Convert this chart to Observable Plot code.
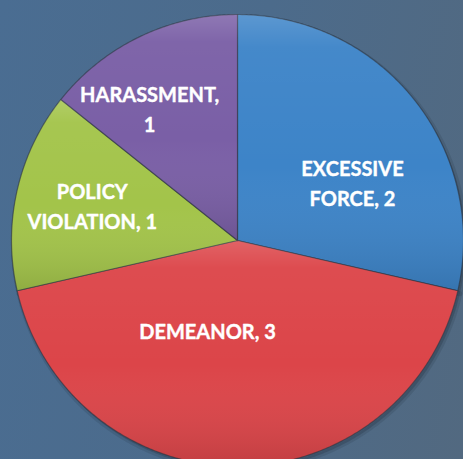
<!DOCTYPE html>
<html><head><meta charset="utf-8">
<script src="https://cdn.jsdelivr.net/npm/d3@7"></script>
<script src="https://cdn.jsdelivr.net/npm/@observablehq/plot@0.6"></script>
<style>
html,body{margin:0;padding:0;overflow:hidden;}
body{width:463px;height:459px;background:linear-gradient(100deg,#4a6d92 0%,#4c6b8b 50%,#526980 100%);}
#chart svg{display:block;background:transparent;}
</style></head><body><div id="chart"></div>
<script>
const categories = ["EXCESSIVE FORCE", "DEMEANOR", "POLICY VIOLATION", "HARASSMENT"];
const values = [2, 3, 1, 1];
const labels = ["EXCESSIVE\nFORCE, 2", "DEMEANOR, 3", "POLICY\nVIOLATION, 1", "HARASSMENT,\n1"];

const W = 463, H = 459, cx = 237, cy = 240, R = 226;
const rows = categories.map((c, i) => ({category: c, value: values[i], label: labels[i]}));
const slices = d3.pie().sort(null).value(d => d.value)(rows);

const pts = [];
for (const s of slices) {
  const n = Math.max(2, Math.ceil((s.endAngle - s.startAngle) / 0.01));
  pts.push({category: s.data.category, x: 0, y: 0});
  for (let k = 0; k <= n; k++) {
    const a = s.startAngle + (s.endAngle - s.startAngle) * k / n;
    pts.push({category: s.data.category, x: Math.sin(a), y: Math.cos(a)});
  }
  pts.push({category: s.data.category, x: 0, y: 0});
}
const lr = 0.6;
const labelPts = slices.map(s => {
  const m = (s.startAngle + s.endAngle) / 2;
  return {category: s.data.category, label: s.data.label, x: lr * Math.sin(m), y: lr * Math.cos(m)};
});
const offsets = {
  "EXCESSIVE FORCE": [9, 25],
  "DEMEANOR": [-30, -47],
  "POLICY VIOLATION": [-13, -6],
  "HARASSMENT": [-29, -11]
};
const textStyle = {fill: "white", stroke: "white", strokeWidth: 0.4, fontSize: 20, fontWeight: "bold", fontFamily: "Lato, 'Open Sans', sans-serif", lineHeight: 1.5, lineAnchor: "middle", textAnchor: "middle"};

function defs() {
  const ns = "http://www.w3.org/2000/svg";
  const d = document.createElementNS(ns, "defs");
  const g = document.createElementNS(ns, "linearGradient");
  g.setAttribute("id", "shade");
  g.setAttribute("x1", "0"); g.setAttribute("y1", "0");
  g.setAttribute("x2", "0"); g.setAttribute("y2", "1");
  for (const [o, c, a] of [[0, "white", 0.16], [0.12, "white", 0.04], [0.55, "white", 0], [1, "black", 0.12]]) {
    const st = document.createElementNS(ns, "stop");
    st.setAttribute("offset", o);
    st.setAttribute("stop-color", c);
    st.setAttribute("stop-opacity", a);
    g.appendChild(st);
  }
  d.appendChild(g);
  return d;
}

const chart = Plot.plot({
  width: W, height: H,
  margin: 0,
  x: {domain: [-cx / R, (W - cx) / R], axis: null},
  y: {domain: [-(H - cy) / R, cy / R], axis: null},
  color: {domain: categories, range: ["#3d84c8", "#dc4549", "#a3c44a", "#7a5fa6"]},
  style: {background: "transparent", overflow: "hidden"},
  marks: [
    defs,
    Plot.line(pts, {x: "x", y: "y", z: "category", fill: "#1e2a38", fillOpacity: 0.25, stroke: "#1e2a38", strokeOpacity: 0.15, strokeWidth: 5, dx: 2, dy: 3, curve: "linear"}),
    Plot.line(pts, {x: "x", y: "y", z: "category", fill: "category", stroke: "#2b3340", strokeOpacity: 0.6, strokeWidth: 1.2, curve: "linear"}),
    Plot.line(pts, {x: "x", y: "y", z: "category", fill: "url(#shade)", stroke: "none", curve: "linear"}),
    ...labelPts.map(d => Plot.text([d], {x: "x", y: "y", text: "label", dx: offsets[d.category][0], dy: offsets[d.category][1], ...textStyle}))
  ]
});
document.getElementById("chart").append(chart);
</script></body></html>
